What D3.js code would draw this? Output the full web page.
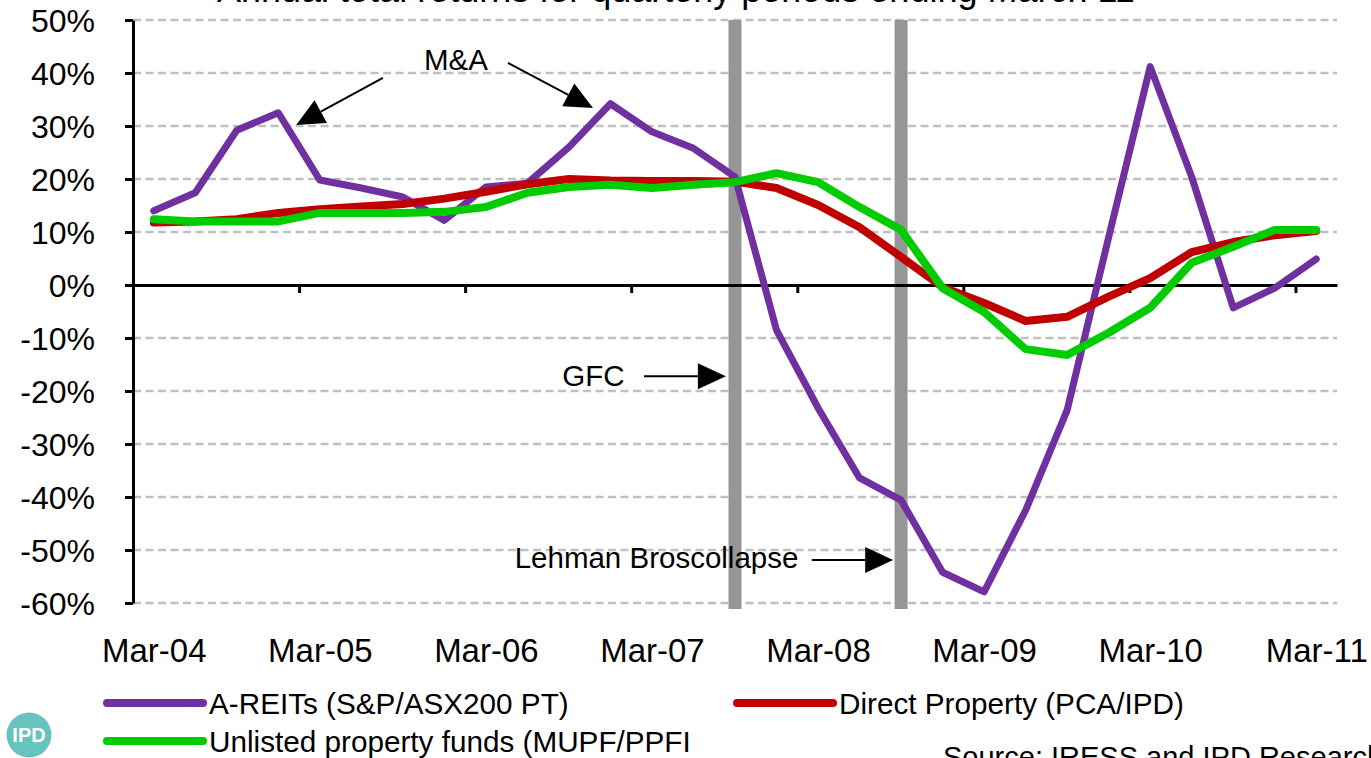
<!DOCTYPE html>
<html>
<head>
<meta charset="utf-8">
<script src="https://cdnjs.cloudflare.com/ajax/libs/d3/7.8.5/d3.min.js"></script>
<style>
  html, body { margin: 0; padding: 0; background: #fff; overflow: hidden; }
  svg { display: block; }
  text { font-family: "Liberation Sans", Arial, sans-serif; fill: #000; }
</style>
</head>
<body>
<svg id="chart" width="1371" height="758"></svg>
<script>
// Quarterly observations, March 2004 to March 2011
const quarters = [
  "Mar-04","Jun-04","Sep-04","Dec-04",
  "Mar-05","Jun-05","Sep-05","Dec-05",
  "Mar-06","Jun-06","Sep-06","Dec-06",
  "Mar-07","Jun-07","Sep-07","Dec-07",
  "Mar-08","Jun-08","Sep-08","Dec-08",
  "Mar-09","Jun-09","Sep-09","Dec-09",
  "Mar-10","Jun-10","Sep-10","Dec-10",
  "Mar-11"
];

// Annual total returns (%)
const areits = [14.0, 17.4, 29.2, 32.5, 19.8, 18.3, 16.6, 12.2, 18.5, 19.2, 26.0, 34.2, 28.9, 25.8, 20.4,
  -8.5, -23.2, -36.4, -40.6, -54.2, -57.9, -42.5, -23.6, 9.0, 41.2, 20.4, -4.3, -0.6, 4.9];
const directProperty = [11.8, 12.0, 12.4, 13.6, 14.3, 14.8, 15.3, 16.3, 17.6, 19.0, 20.0, 19.7, 19.6, 19.6, 19.5,
  18.3, 15.1, 10.9, 5.3, -0.4, -3.4, -6.8, -6.0, -2.2, 1.3, 6.2, 8.1, 9.4, 10.2];
const unlistedFunds = [12.4, 12.0, 12.0, 12.0, 13.6, 13.6, 13.6, 13.8, 14.7, 17.4, 18.5, 18.9, 18.3, 18.9, 19.4,
  21.1, 19.4, 14.7, 10.4, -0.6, -5.1, -12.1, -13.2, -9.0, -4.3, 4.2, 7.2, 10.4, 10.4];

const seriesNames = ["A-REITs (S&P/ASX200 PT)", "Direct Property (PCA/IPD)", "Unlisted property funds (MUPF/PPFI"];
const yTicks = [-60, -50, -40, -30, -20, -10, 0, 10, 20, 30, 40, 50];
const xTickLabels = ["Mar-04", "Mar-05", "Mar-06", "Mar-07", "Mar-08", "Mar-09", "Mar-10", "Mar-11"];
const eventQuarters = ["Sep-07", "Sep-08"];

const svg = d3.select("#chart");
const plotLeft = 133, plotRight = 1337, plotTop = 20, plotBottom = 603;

// Category index scale: each quarter occupies one band, points sit at band centres
const x = d3.scaleLinear().domain([-0.5, quarters.length - 0.5]).range([plotLeft, plotRight]);
const y = d3.scaleLinear().domain([-60, 50]).range([plotBottom, plotTop]);
const qi = q => quarters.indexOf(q);

// Title (runs off the top edge)
svg.append("text")
  .attr("x", 217).attr("y", 2)
  .style("font-size", "36px")
  .text("Annual total returns for quarterly periods ending March 11");

// Dashed horizontal gridlines
svg.append("g").selectAll("line")
  .data(yTicks.filter(t => t !== 0))
  .join("line")
  .attr("x1", plotLeft).attr("x2", plotRight)
  .attr("y1", d => y(d)).attr("y2", d => y(d))
  .attr("stroke", "#c0c0c0").attr("stroke-width", 2.5)
  .attr("stroke-dasharray", "8,4.5");

// Event markers (GFC, Lehman Bros collapse)
svg.append("g").selectAll("rect")
  .data(eventQuarters)
  .join("rect")
  .attr("x", d => x(qi(d)) - 6.5)
  .attr("width", 13)
  .attr("y", y(50))
  .attr("height", y(-60) - y(50) + 6)
  .attr("fill", "#969696");

// Y axis
const yAxis = svg.append("g")
  .attr("transform", `translate(${plotLeft},0)`)
  .call(d3.axisLeft(y).tickValues(yTicks).tickSize(8).tickSizeOuter(0).tickPadding(30)
    .tickFormat(d => d + "%"));
yAxis.select(".domain").attr("stroke", "#000").attr("stroke-width", 3);
yAxis.selectAll(".tick line").attr("stroke", "#000").attr("stroke-width", 3);
yAxis.selectAll(".tick text").style("font-size", "32px").attr("dy", "0.36em").attr("fill", "#000");

// Zero line with tick marks between each March quarter
const yearBoundaries = d3.range(3.5, quarters.length - 1, 4);
const xAxis = svg.append("g")
  .attr("transform", `translate(0,${y(0)})`)
  .call(d3.axisBottom(x).tickValues(yearBoundaries).tickSize(8).tickSizeOuter(0).tickFormat(""));
xAxis.select(".domain").attr("stroke", "#000").attr("stroke-width", 3);
xAxis.selectAll(".tick line").attr("stroke", "#000").attr("stroke-width", 3);

// Category labels under the plot
const xLabels = svg.append("g")
  .attr("transform", `translate(0,${plotBottom})`)
  .call(d3.axisBottom(x).tickValues(xTickLabels.map(qi)).tickSize(0).tickPadding(36)
    .tickFormat(i => quarters[i]));
xLabels.select(".domain").remove();
xLabels.selectAll(".tick text").style("font-size", "33px").attr("fill", "#000");

// Series lines
const series = [
  { name: seriesNames[0], values: areits, color: "#7030a0", width: 7 },
  { name: seriesNames[1], values: directProperty, color: "#c00000", width: 8 },
  { name: seriesNames[2], values: unlistedFunds, color: "#00cc00", width: 8 }
];
const line = d3.line().x((d, i) => x(i)).y(d => y(d));
svg.append("g").selectAll("path")
  .data(series)
  .join("path")
  .attr("d", d => line(d.values))
  .attr("fill", "none")
  .attr("stroke", d => d.color)
  .attr("stroke-width", d => d.width)
  .attr("stroke-linejoin", "round")
  .attr("stroke-linecap", "round");

// Annotations, positioned in quarter / return units
const notes = [
  { text: "M&A", at: [7.28, 40.6], arrows: [[[5.52, 39.1], [3.43, 30.2]], [[8.53, 41.9], [10.58, 33.4]]] },
  { text: "GFC", at: [10.59, -19.15], arrows: [[[11.81, -17.2], [13.78, -17.2]]] },
  { text: "Lehman Broscollapse", at: [12.11, -53.4], arrows: [[[15.85, -51.9], [17.81, -51.9]]] }
];
const ann = svg.append("g");
notes.forEach(n => {
  ann.append("text")
    .attr("x", x(n.at[0])).attr("y", y(n.at[1]))
    .attr("text-anchor", "middle")
    .style("font-size", "29.5px")
    .text(n.text);
  n.arrows.forEach(([a, b]) => {
    const x1 = x(a[0]), y1 = y(a[1]), x2 = x(b[0]), y2 = y(b[1]);
    const ang = Math.atan2(y2 - y1, x2 - x1);
    const len = 28, half = 13;
    const bx = x2 - len * Math.cos(ang), by = y2 - len * Math.sin(ang);
    ann.append("line")
      .attr("x1", x1).attr("y1", y1).attr("x2", bx).attr("y2", by)
      .attr("stroke", "#000").attr("stroke-width", 2);
    const px = -Math.sin(ang) * half, py = Math.cos(ang) * half;
    ann.append("path")
      .attr("d", `M${x2},${y2}L${bx + px},${by + py}L${bx - px},${by - py}Z`)
      .attr("fill", "#000");
  });
});

// Legend
const legendPos = [[107, 703], [737, 703], [107, 741]];
const legend = svg.append("g").selectAll("g")
  .data(series)
  .join("g")
  .attr("transform", (d, i) => `translate(${legendPos[i][0]},${legendPos[i][1]})`);
legend.append("line")
  .attr("x1", 0).attr("x2", 96).attr("y1", 0).attr("y2", 0)
  .attr("stroke", d => d.color).attr("stroke-width", 8).attr("stroke-linecap", "round");
legend.append("text")
  .attr("x", 102).attr("y", 0).attr("dy", "0.36em")
  .style("font-size", "29.7px")
  .text(d => d.name);

// Source note
svg.append("text")
  .attr("x", 943).attr("y", 767)
  .style("font-size", "29px")
  .text("Source: IRESS and IPD Research");

// IPD badge
const badge = svg.append("g").attr("transform", "translate(29,735)");
badge.append("circle").attr("r", 22.5).attr("fill", "#66c3bd");
badge.append("text")
  .attr("text-anchor", "middle").attr("dy", "0.36em")
  .style("font-size", "20px").style("font-weight", "bold").style("fill", "#fff")
  .text("IPD");
</script>
</body>
</html>
